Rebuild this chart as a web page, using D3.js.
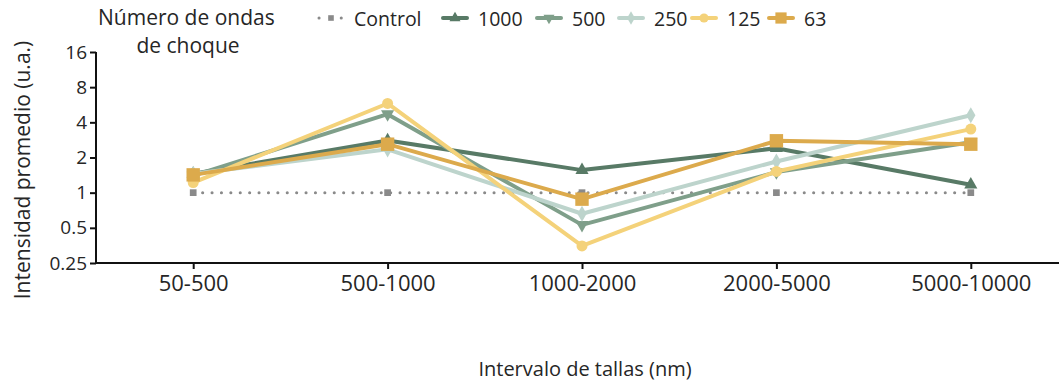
<!DOCTYPE html>
<html>
<head>
<meta charset="utf-8">
<script src="https://cdn.jsdelivr.net/npm/d3@7"></script>
<style>
  body { margin: 0; background: #fff; }
  text { font-family: "Open Sans", sans-serif; fill: #262626; }
</style>
</head>
<body>
<div id="viz"></div>
<script>
(function() {
  var categories, seriesNames, seriesColors, seriesSymbols, symbolSizes, control, s1000, s500, s250, s125, s63, yTicks, series, svg, x, y, line, legend, lx;

  categories = ["50-500", "500-1000", "1000-2000", "2000-5000", "5000-10000"];
  yTicks = [0.25, 0.5, 1, 2, 4, 8, 16];

  control = [1, 1, 1, 1, 1];
  s1000 = [1.45, 2.8, 1.56, 2.4, 1.17];
  s500 = [1.4, 4.7, 0.53, 1.5, 2.7];
  s250 = [1.45, 2.35, 0.66, 1.85, 4.6];
  s125 = [1.22, 5.8, 0.35, 1.52, 3.5];
  s63 = [1.42, 2.6, 0.88, 2.78, 2.6];

  seriesNames = ["Control", "1000", "500", "250", "125", "63"];
  seriesColors = ["#8a8a8a", "#587a66", "#7f9f8a", "#bdd4cc", "#f4d27a", "#dcaa4c"];
  seriesSymbols = [d3.symbolSquare, d3.symbolTriangle, d3.symbolTriangle, d3.symbolDiamond, d3.symbolCircle, d3.symbolSquare];
  symbolSizes = [45, 75, 75, 75, 95, 180];

  series = [control, s1000, s500, s250, s125, s63].map(function(vals, i) {
    return { name: seriesNames[i], color: seriesColors[i], symbol: seriesSymbols[i], size: symbolSizes[i], flip: i === 2,
      values: vals.map(function(v, j) { return { cat: categories[j], v: v }; }) };
  });

  svg = d3.select("#viz").append("svg").attr("width", 1059).attr("height", 385);

  x = d3.scalePoint().domain(categories).range([96, 1068]).padding(0.5);
  y = d3.scaleLog().base(2).domain([0.25, 16]).range([263, 52]);

  // axes
  svg.append("g").attr("transform", "translate(96,0)")
    .call(d3.axisLeft(y).tickValues(yTicks).tickSize(6).tickPadding(3).tickFormat(function(d) { return String(d); }))
    .call(function(g) {
      g.select(".domain").attr("stroke", "#111").attr("stroke-width", 2).attr("d", "M0,263V52");
      g.selectAll(".tick line").attr("stroke", "#111").attr("stroke-width", 2);
      g.selectAll(".tick text").style("font-size", "19px").attr("fill", "#262626").attr("font-family", "Open Sans");
    });

  svg.append("g").attr("transform", "translate(0,263)")
    .call(d3.axisBottom(x).tickSize(6).tickPadding(6))
    .call(function(g) {
      g.select(".domain").attr("stroke", "#111").attr("stroke-width", 2).attr("d", "M95,0H1068");
      g.selectAll(".tick line").attr("stroke", "#111").attr("stroke-width", 2);
      g.selectAll(".tick text").style("font-size", "22px").attr("fill", "#262626").attr("font-family", "Open Sans");
    });

  svg.append("text").attr("transform", "translate(30,170) rotate(-90)")
    .attr("text-anchor", "middle").style("font-size", "21px").text("Intensidad promedio (u.a.)");

  svg.append("text").attr("x", 585).attr("y", 376)
    .attr("text-anchor", "middle").style("font-size", "20px").text("Intervalo de tallas (nm)");

  line = d3.line().x(function(d) { return x(d.cat); }).y(function(d) { return y(d.v); });

  series.forEach(function(s, i) {
    var g = svg.append("g");
    g.append("path").datum(s.values).attr("d", line).attr("fill", "none")
      .attr("stroke", s.color)
      .attr("stroke-width", i === 0 ? 3 : 4)
      .attr("stroke-linecap", "round")
      .attr("stroke-linejoin", "round")
      .attr("stroke-dasharray", i === 0 ? "0.1,9.3" : null);
    g.selectAll("path.pt").data(s.values).enter().append("path").attr("class", "pt")
      .attr("d", d3.symbol().type(s.symbol).size(s.size))
      .attr("transform", function(d) { return "translate(" + x(d.cat) + "," + y(d.v) + ")" + (s.flip ? " rotate(180)" : ""); })
      .attr("fill", s.color);
  });

  // legend
  svg.append("text").attr("x", 98).attr("y", 25).style("font-size", "21px").text("Número de ondas");
  svg.append("text").attr("x", 188).attr("y", 53).attr("text-anchor", "middle").style("font-size", "21px").text("de choque");

  lx = [331, 455, 549, 631, 704, 781];
  legend = svg.append("g");
  series.forEach(function(s, i) {
    var g = legend.append("g").attr("transform", "translate(" + lx[i] + ",18)");
    g.append("line").attr("x1", -12).attr("x2", 12).attr("stroke", s.color)
      .attr("stroke-width", i === 0 ? 3 : 4).attr("stroke-linecap", "round")
      .attr("stroke-dasharray", i === 0 ? "0.1,11" : null);
    g.append("path").attr("d", d3.symbol().type(s.symbol).size(s.size * 0.7))
      .attr("transform", s.flip ? "rotate(180)" : null)
      .attr("fill", s.color);
    g.append("text").attr("x", 23).attr("y", 8).style("font-size", "19.5px").text(s.name);
  });
})();
</script>
</body>
</html>
